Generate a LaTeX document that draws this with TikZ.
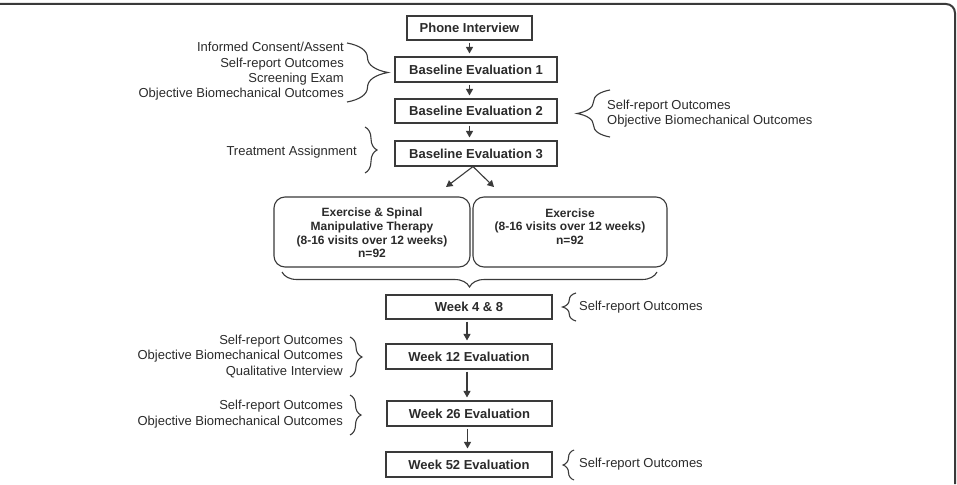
\documentclass[tikz,border=0pt]{standalone}
\usepackage{fontspec}
\setmainfont{Liberation Sans}
\usetikzlibrary{arrows.meta,decorations.pathreplacing,calc}
\definecolor{ln}{HTML}{3A3A3A}
\definecolor{tx}{HTML}{2B2B2B}
\begin{document}
\begin{tikzpicture}[x=1pt,y=-1pt,
  box/.style={draw=ln, line width=1.1pt, inner sep=0pt, text=tx,
    font=\fontsize{13}{15}\selectfont\bfseries},
  rbox/.style={draw=ln, line width=1.1pt, inner sep=0pt, rounded corners=11pt},
  rtext/.style={inner sep=0pt, text=tx, align=center,
    font=\fontsize{12}{13.7}\selectfont\bfseries},
  lst/.style={inner sep=0pt, text=tx, font=\fontsize{13}{15.4}\selectfont},
  arr/.style={draw=ln, line width=1.1pt, -{Triangle[length=6.5pt,width=7pt]}},
  sarr/.style={arr, shorten <=2pt, shorten >=3pt},
  brc/.style={draw=ln, line width=1.1pt, decorate},
]
\useasboundingbox (0,0) rectangle (957,484);
\fill[white] (0,0) rectangle (957,484);
% frame
\draw[line width=2pt, draw=ln, rounded corners=9pt] (0,4) -- (955,4) -- (955,484);

% main boxes
\node[box, minimum width=125pt, minimum height=24pt] (phone) at (469.5,28) {Phone Interview};
\node[box, minimum width=162pt, minimum height=25pt] (be1) at (476,69.5) {Baseline Evaluation 1};
\node[box, minimum width=162pt, minimum height=24pt] (be2) at (476,111) {Baseline Evaluation 2};
\node[box, minimum width=162pt, minimum height=25pt] (be3) at (476,153.5) {Baseline Evaluation 3};

\node[rbox, minimum width=196pt, minimum height=70pt] (esmt) at (372,232) {};
\node[rbox, minimum width=194pt, minimum height=70pt] (ex) at (570,232) {};
\node[rtext] (esmtT) at (372,233) {Exercise \& Spinal\\Manipulative Therapy\\(8-16 visits over 12 weeks)\\n=92};
\node[rtext] (exT) at (570,226.5) {Exercise\\(8-16 visits over 12 weeks)\\n=92};

\node[box, minimum width=166pt, minimum height=24pt] (w48) at (469,307) {Week 4 \& 8};
\node[box, minimum width=166pt, minimum height=25pt] (w12) at (469,356.5) {Week 12 Evaluation};
\node[box, minimum width=165pt, minimum height=25pt] (w26) at (469.5,413.5) {Week 26 Evaluation};
\node[box, minimum width=166pt, minimum height=25pt] (w52) at (469,464.5) {Week 52 Evaluation};

% arrows
\draw[sarr] (phone.south) -- (phone.south |- be1.north);
\draw[sarr] (phone.south |- be1.south) -- (phone.south |- be2.north);
\draw[sarr] (phone.south |- be2.south) -- (phone.south |- be3.north);
\coordinate (sp) at ([xshift=-3pt]be3.south);
\coordinate (dl) at (446,187);
\coordinate (dr) at (494,187);
\draw[arr] (sp) -- (dl);
\draw[arr] (sp) -- (dr);
\draw[sarr] ([xshift=-2pt]w48.south) -- ([xshift=-2pt]w48.south |- w12.north);
\draw[sarr] ([xshift=-2pt]w12.south) -- ([xshift=-2pt]w12.south |- w26.north);
\draw[sarr] ([xshift=-2pt]w26.south) -- ([xshift=-2pt]w26.south |- w52.north);

% side lists
\node[lst, anchor=east, align=right] (l1) at (344,71.5) {Informed Consent/Assent\\Self-report Outcomes\\Screening Exam\\Objective Biomechanical Outcomes};
\node[lst, anchor=west, align=left] (r2) at (607,113.5) {Self-report Outcomes\\Objective Biomechanical Outcomes};
\node[lst, anchor=east] (l3) at (357,152) {Treatment Assignment};
\node[lst, anchor=west] (r48) at (579,307.5) {Self-report Outcomes};
\node[lst, anchor=east, align=right] (l12) at (343,356.5) {Self-report Outcomes\\Objective Biomechanical Outcomes\\Qualitative Interview};
\node[lst, anchor=east, align=right] (l26) at (343,414) {Self-report Outcomes\\Objective Biomechanical Outcomes};
\node[lst, anchor=west] (r52) at (579,464.5) {Self-report Outcomes};

% braces
\draw[brc, decoration={brace, amplitude=41pt}] (347,43) -- (347,102);
\draw[brc, decoration={brace, amplitude=33pt}] (610,137) -- (610,90);
\draw[brc, decoration={brace, amplitude=12pt}] (365,127) -- (365,173);
\draw[brc, decoration={brace, amplitude=15pt}] (657,272) -- (282,272);
\draw[brc, decoration={brace, amplitude=13.5pt}] (576,321) -- (576,293);
\draw[brc, decoration={brace, amplitude=12pt}] (350,337) -- (350,377);
\draw[brc, decoration={brace, amplitude=11pt}] (350,395) -- (350,435);
\draw[brc, decoration={brace, amplitude=11pt}] (574,480) -- (574,450);
\end{tikzpicture}
\end{document}
